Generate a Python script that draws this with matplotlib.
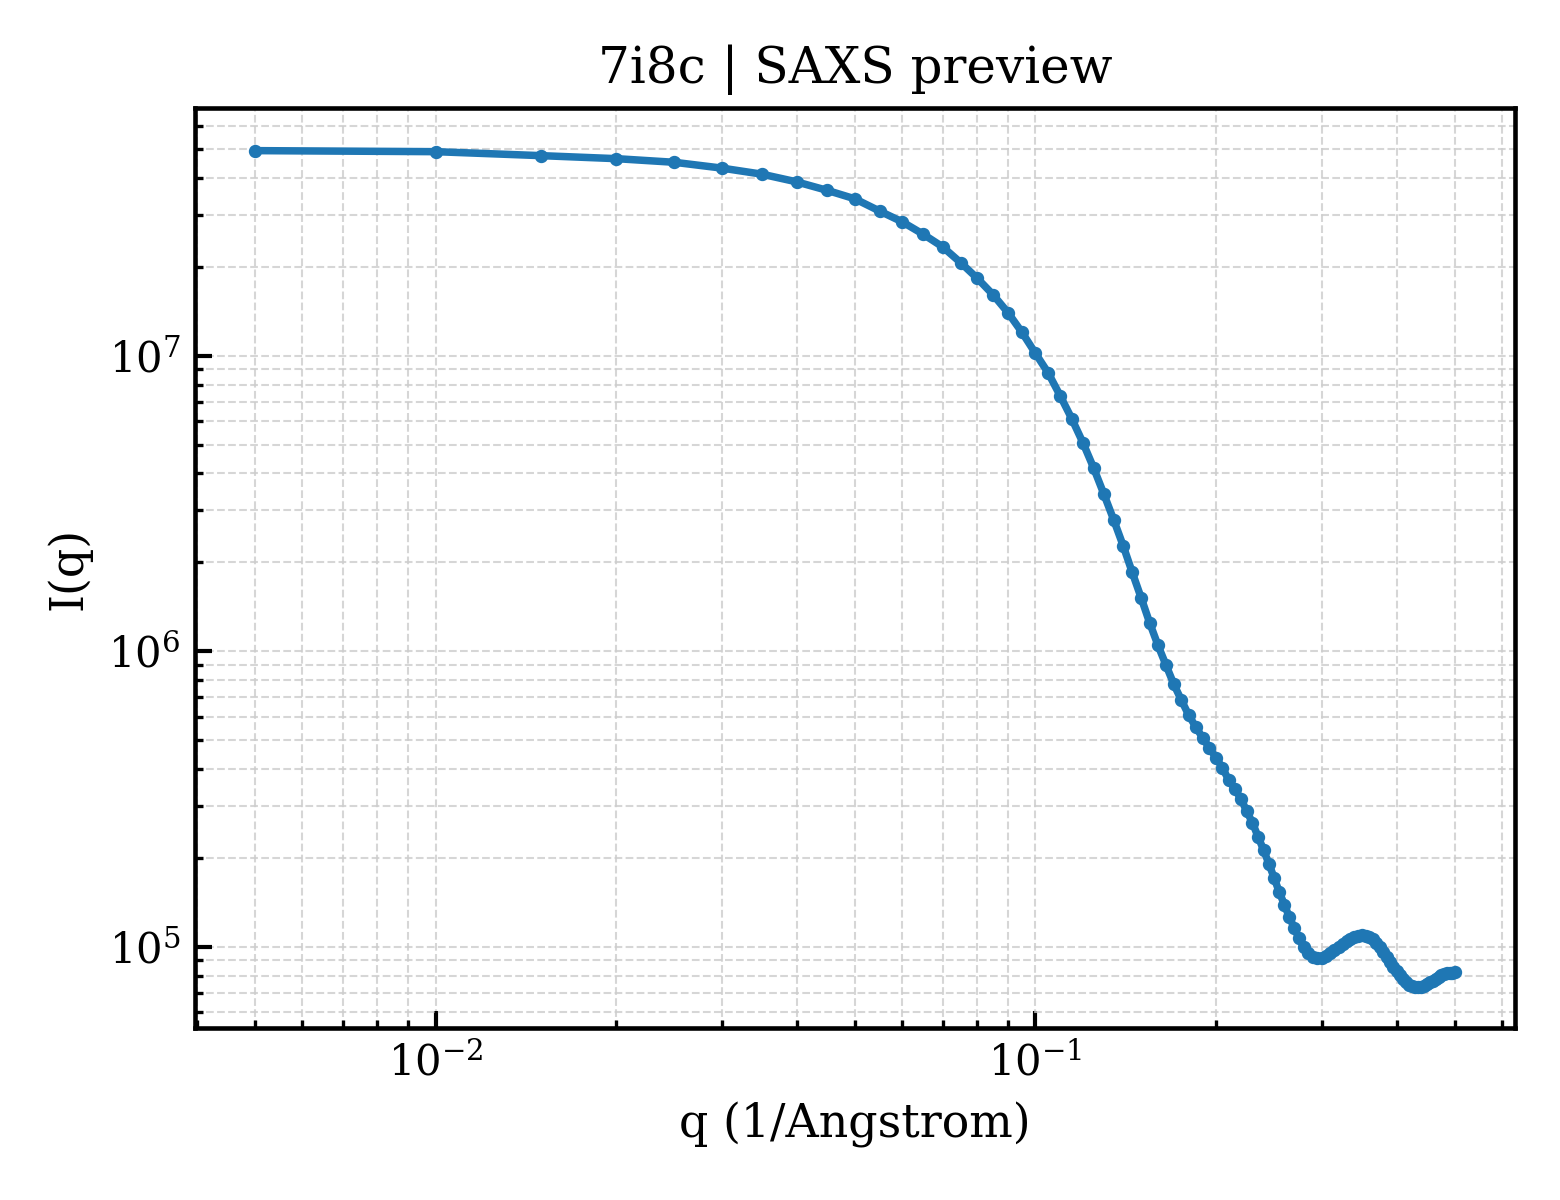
import numpy as np
import matplotlib
matplotlib.use("Agg")
import matplotlib.pyplot as plt

plt.rcParams['font.family'] = 'serif'
plt.rcParams['font.serif'] = ['DejaVu Serif']
plt.rcParams['mathtext.fontset'] = 'dejavuserif'

# scattering vector q (1/Angstrom)
q = [0.005, 0.010, 0.015, 0.020, 0.025, 0.030, 0.035, 0.040, 0.045, 0.050,
     0.055, 0.060, 0.065, 0.070, 0.075, 0.080, 0.085, 0.090, 0.095, 0.100,
     0.105, 0.110, 0.115, 0.120, 0.125, 0.130, 0.135, 0.140, 0.145, 0.150,
     0.155, 0.160, 0.165, 0.170, 0.175, 0.180, 0.185, 0.190, 0.195, 0.200,
     0.205, 0.210, 0.215, 0.220, 0.225, 0.230, 0.235, 0.240, 0.245, 0.250,
     0.255, 0.260, 0.265, 0.270, 0.275, 0.280, 0.285, 0.290, 0.295, 0.300,
     0.305, 0.310, 0.315, 0.320, 0.325, 0.330, 0.335, 0.340, 0.345, 0.350,
     0.355, 0.360, 0.365, 0.370, 0.375, 0.380, 0.385, 0.390, 0.395, 0.400,
     0.405, 0.410, 0.415, 0.420, 0.425, 0.430, 0.435, 0.440, 0.445, 0.450,
     0.455, 0.460, 0.465, 0.470, 0.475, 0.480, 0.485, 0.490, 0.495, 0.500]

# intensity I(q)
intensity = [4.95e7, 4.91e7, 4.76e7, 4.65e7, 4.52e7, 4.32e7, 4.12e7, 3.88e7, 3.63e7, 3.40e7,
             3.09e7, 2.84e7, 2.58e7, 2.34e7, 2.07e7, 1.83e7, 1.61e7, 1.40e7, 1.20e7, 1.02e7,
             8.76e6, 7.32e6, 6.12e6, 5.08e6, 4.18e6, 3.41e6, 2.79e6, 2.28e6, 1.85e6, 1.52e6,
             1.25e6, 1.05e6, 9.00e5, 7.76e5, 6.85e5, 6.10e5, 5.55e5, 5.10e5, 4.71e5, 4.36e5,
             4.03e5, 3.67e5, 3.42e5, 3.17e5, 2.88e5, 2.63e5, 2.36e5, 2.13e5, 1.91e5, 1.71e5,
             1.53e5, 1.39e5, 1.26e5, 1.16e5, 1.07e5, 1.00e5, 9.54e4, 9.25e4, 9.18e4, 9.20e4,
             9.32e4, 9.54e4, 9.77e4, 1.00e5, 1.02e5, 1.05e5, 1.06e5, 1.08e5, 1.09e5, 1.10e5,
             1.09e5, 1.08e5, 1.06e5, 1.03e5, 1.00e5, 9.62e4, 9.25e4, 8.90e4, 8.56e4, 8.30e4,
             8.04e4, 7.79e4, 7.61e4, 7.44e4, 7.35e4, 7.32e4, 7.30e4, 7.32e4, 7.38e4, 7.49e4,
             7.58e4, 7.67e4, 7.79e4, 7.92e4, 8.01e4, 8.10e4, 8.14e4, 8.17e4, 8.19e4, 8.23e4]

fig = plt.figure(figsize=(5.2, 4), dpi=300)
ax = fig.add_axes([0.125, 0.143, 0.846, 0.767])

ax.plot(q, intensity, '-o', color='#1f77b4', linewidth=1.8, markersize=2.2)
ax.set_xscale('log')
ax.set_yscale('log')
ax.set_ylim(5.3e4, 6.9e7)

ax.grid(True, which='both', linestyle='--', linewidth=0.5, color='#cccccc', alpha=0.8)
ax.tick_params(which='both', direction='in', labelsize=10)
ax.tick_params(which='major', length=4, width=1)
ax.tick_params(which='minor', length=2, width=0.8)
for s in ax.spines.values():
    s.set_linewidth(1.1)

ax.set_xlabel('q (1/Angstrom)', fontsize=11)
ax.set_ylabel('I(q)', fontsize=11)
ax.set_title('7i8c | SAXS preview', fontsize=12)

fig.savefig('out.png', dpi=300)
